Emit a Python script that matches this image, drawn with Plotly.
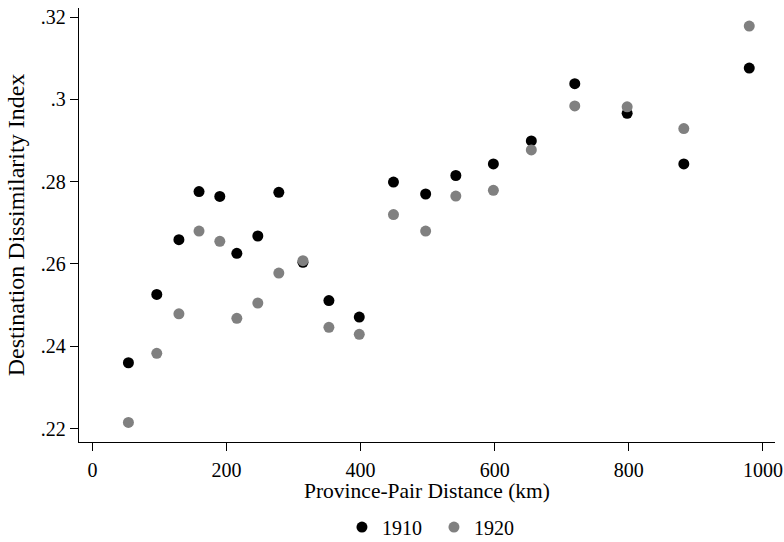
import plotly.graph_objects as go

distance_km = [53.7, 96, 129, 159, 190, 215.4, 246.7, 278, 314, 352.7,
               398, 449, 497, 542, 598, 654.6, 719.4, 797.5, 882, 979.6]
index_1910 = [0.2360, 0.2526, 0.2659, 0.2776, 0.2764, 0.2626, 0.2668, 0.2774, 0.2604, 0.2511,
              0.2471, 0.2799, 0.2770, 0.2815, 0.2843, 0.2899, 0.3038, 0.2966, 0.2843, 0.3076]
index_1920 = [0.2215, 0.2383, 0.2479, 0.2680, 0.2655, 0.2468, 0.2505, 0.2578, 0.2608, 0.2446,
              0.2429, 0.2720, 0.2680, 0.2765, 0.2779, 0.2877, 0.2984, 0.2982, 0.2929, 0.3178]

x_ticks = [0, 200, 400, 600, 800, 1000]
x_ticklabels = ["0", "200", "400", "600", "800", "1000"]
y_ticks = [0.22, 0.24, 0.26, 0.28, 0.30, 0.32]
y_ticklabels = [".22", ".24", ".26", ".28", ".3", ".32"]
x_title = "Province-Pair Distance (km)"
y_title = "Destination Dissimilarity Index"

FONT = "Liberation Serif"
W, H = 784, 542
L, R, T, B = 79, 9, 8, 100

fig = go.Figure()
fig.add_trace(go.Scatter(x=distance_km, y=index_1910, mode="markers", name="1910",
                         marker=dict(color="#000000", size=11, line=dict(width=0))))
fig.add_trace(go.Scatter(x=distance_km, y=index_1920, mode="markers", name="1920",
                         marker=dict(color="#808080", size=11, line=dict(width=0))))

fig.add_annotation(text=x_title, xref="paper", yref="paper", x=0.5, y=-0.113,
                   xanchor="center", yanchor="middle", showarrow=False,
                   font=dict(family=FONT, size=21.5, color="black"))

fig.update_layout(
    width=W, height=H,
    margin=dict(l=L, r=R, t=T, b=B, pad=0, autoexpand=False),
    paper_bgcolor="white", plot_bgcolor="white",
    font=dict(family=FONT, size=20, color="black"),
    showlegend=True,
    legend=dict(orientation="h", x=0.51, xanchor="center", y=-0.196, yanchor="middle",
                font=dict(family=FONT, size=20), entrywidth=47, tracegroupgap=0),
    xaxis=dict(range=[-20, 1018], tickvals=x_ticks, ticktext=x_ticklabels,
               showgrid=False, zeroline=False, showline=True, linecolor="black", linewidth=1.3,
               ticks="outside", ticklen=8, tickwidth=1.2, tickcolor="black",
               ticklabelstandoff=2, tickfont=dict(family=FONT, size=20), automargin=False),
    yaxis=dict(range=[0.21674, 0.3222], tickvals=y_ticks, ticktext=y_ticklabels,
               showgrid=False, zeroline=False, showline=True, linecolor="black", linewidth=1.3,
               ticks="outside", ticklen=8, tickwidth=1.2, tickcolor="black",
               tickfont=dict(family=FONT, size=20), automargin=False,
               title=dict(text=y_title, standoff=9,
                          font=dict(family=FONT, size=24))),
)

fig.write_html("out.html")
